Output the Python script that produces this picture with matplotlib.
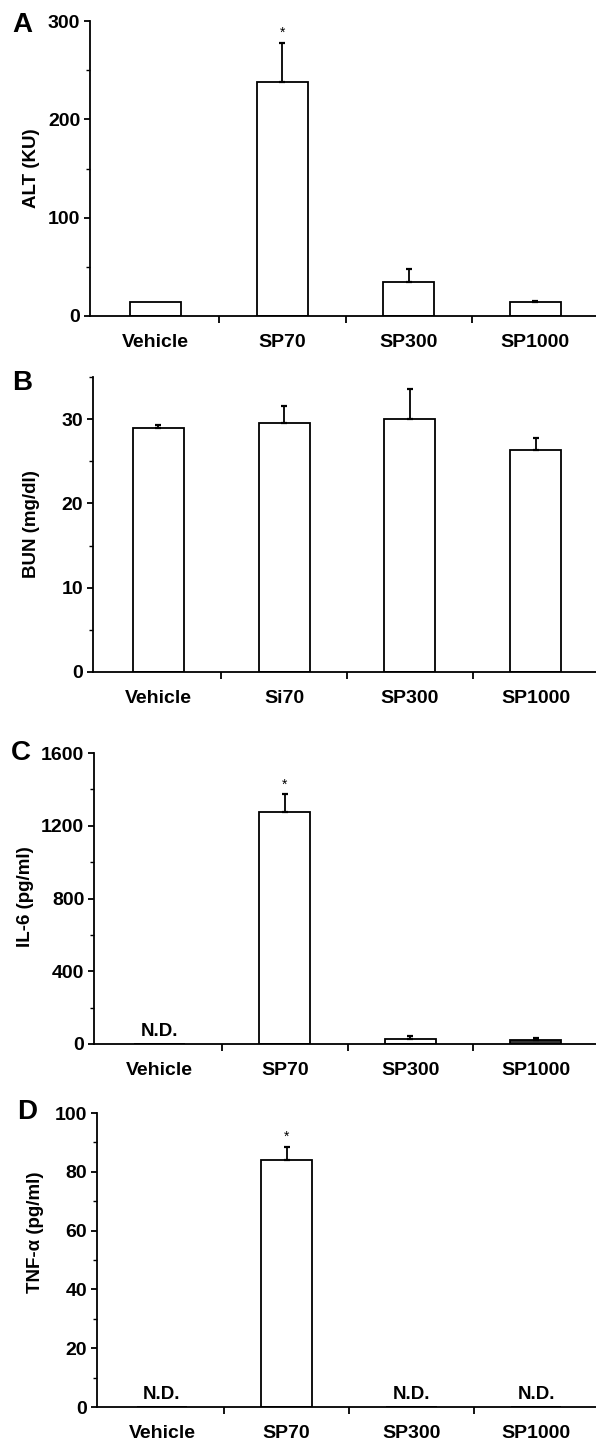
import numpy as np
import matplotlib.pyplot as plt
from matplotlib.ticker import MultipleLocator

plt.rcParams['font.family'] = ['Liberation Sans', 'DejaVu Sans']
plt.rcParams['font.weight'] = 'bold'

W, H = 596, 1443

# ---- data ----
groups_a = ['Vehicle', 'SP70', 'SP300', 'SP1000']
groups_b = ['Vehicle', 'Si70', 'SP300', 'SP1000']

alt_mean = [14, 238, 35, 14.5]
alt_err = [0, 40, 13, 1]
alt_star = [False, True, False, False]

bun_mean = [28.9, 29.6, 30.0, 26.3]
bun_err = [0.4, 2.0, 3.6, 1.5]

il6_mean = [0, 1275, 30, 22]
il6_err = [0, 98, 15, 10]
il6_nd = [True, False, False, False]
il6_star = [False, True, False, False]

tnf_mean = [0, 84, 0, 0]
tnf_err = [0, 4.5, 0, 0]
tnf_nd = [True, False, True, True]
tnf_star = [False, True, False, False]

# panel layout (pixels)
panels = [
    dict(letter='A', ylabel='ALT (KU)', left=90, y0=316, ytop=21, ymax=300, major=100, minor=50,
         labx=32, laby=168, lx=22, ly=25, groups=groups_a, mean=alt_mean, err=alt_err,
         nd=[False] * 4, star=alt_star, fills=['white'] * 4),
    dict(letter='B', ylabel='BUN (mg/dl)', left=93, y0=672, ytop=377, ymax=35, major=10, minor=5,
         labx=32, laby=524, lx=22, ly=383, groups=groups_b, mean=bun_mean, err=bun_err,
         nd=[False] * 4, star=[False] * 4, fills=['white'] * 4),
    dict(letter='C', ylabel='IL-6 (pg/ml)', left=94, y0=1044, ytop=753, ymax=1600, major=400, minor=200,
         labx=25, laby=897, lx=21, ly=753, groups=groups_a, mean=il6_mean, err=il6_err,
         nd=il6_nd, star=il6_star, fills=['white', 'white', 'white', '#333333']),
    dict(letter='D', ylabel='TNF-\u03b1 (pg/ml)', left=97, y0=1407, ytop=1113, ymax=100, major=20, minor=10,
         labx=35, laby=1232, lx=27, ly=1112, groups=groups_a, mean=tnf_mean, err=tnf_err,
         nd=tnf_nd, star=tnf_star, fills=['white'] * 4),
]

fig = plt.figure(figsize=(W / 100, H / 100), dpi=100)

for p in panels:
    ax = fig.add_axes([p['left'] / W, 1 - p['y0'] / H, (W - p['left']) / W, (p['y0'] - p['ytop']) / H])
    x = np.arange(len(p['groups']))
    ax.bar(x, p['mean'], width=0.405, color=p['fills'], edgecolor='black', linewidth=1.3)
    for xi, m, e, nd, st in zip(x, p['mean'], p['err'], p['nd'], p['star']):
        if e > 0:
            ax.errorbar(xi, m, yerr=[[0], [e]], fmt='none', ecolor='black', elinewidth=1.3,
                        capsize=2.5, capthick=1.6)
        if nd:
            ax.annotate('N.D.', (xi, 0), xytext=(0, 3), textcoords='offset points',
                        ha='center', va='bottom', fontsize=13.5, fontweight='bold')
        if st:
            ax.annotate('*', (xi, m + e), xytext=(0, 2), textcoords='offset points',
                        ha='center', va='bottom', fontsize=10, fontweight='normal')

    ax.set_xlim(-0.52, 3.48)
    ax.set_ylim(0, p['ymax'])
    ax.set_xticks(x)
    ax.set_xticklabels(p['groups'])
    ax.set_xticks([0.5, 1.5, 2.5], minor=True)
    ax.tick_params(axis='x', which='major', length=0, pad=13, labelsize=14)
    ax.tick_params(axis='x', which='minor', length=5, width=1.3, direction='out')
    ax.yaxis.set_major_locator(MultipleLocator(p['major']))
    ax.yaxis.set_minor_locator(MultipleLocator(p['minor']))
    ax.tick_params(axis='y', which='major', length=4, width=1.3, pad=3, labelsize=14)
    ax.tick_params(axis='y', which='minor', length=3, width=1.0)
    for s in ['top', 'right']:
        ax.spines[s].set_visible(False)
    for s in ['left', 'bottom']:
        ax.spines[s].set_linewidth(1.3)

    fig.text(p['labx'] / W, 1 - p['laby'] / H, p['ylabel'], rotation=90, ha='center', va='center',
             fontsize=13.5, fontweight='bold')
    fig.text(p['lx'] / W, 1 - p['ly'] / H, p['letter'], ha='center', va='center',
             fontsize=20, fontweight='bold')

fig.savefig('out.png', dpi=100, facecolor='white')
